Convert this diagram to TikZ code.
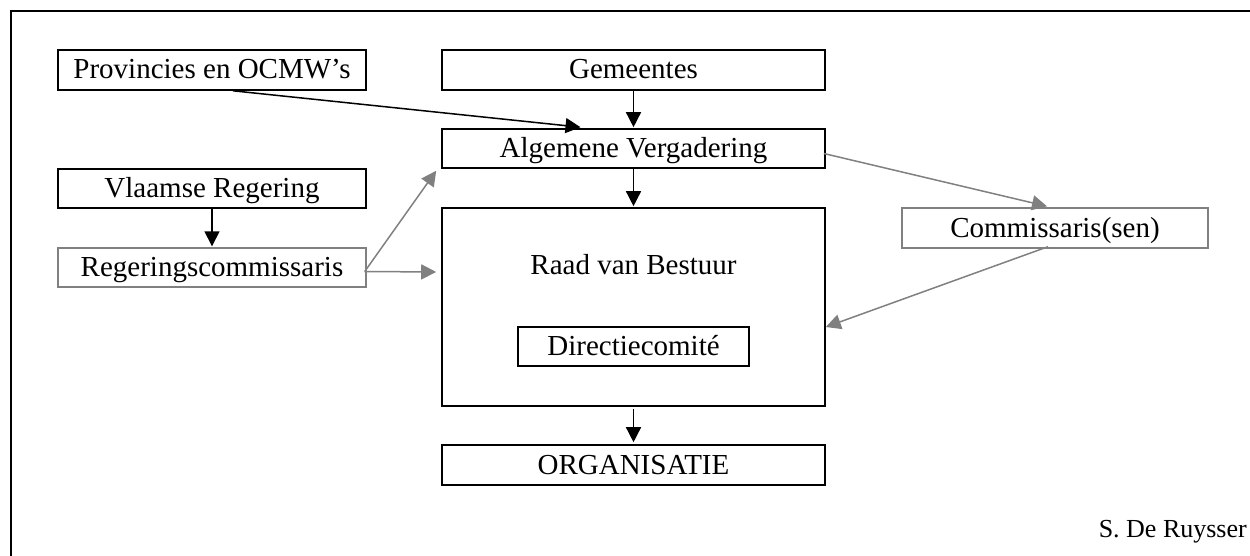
\documentclass[tikz,border=0pt]{standalone}
\usepackage{fontspec}
\setmainfont{Liberation Serif}
\usetikzlibrary{arrows.meta,calc}
\definecolor{linegrey}{HTML}{808080}
\tikzset{
  box/.style={draw=black, line width=1.6pt, rectangle, inner sep=0pt,
    text height=23pt, text depth=5pt,
    font=\fontsize{29}{32}\selectfont},
  greybox/.style={box, draw=linegrey, line width=1.4pt},
  label/.style={inner sep=0pt, text height=23pt, text depth=5pt,
    font=\fontsize{29}{32}\selectfont},
  arr/.style={draw=black, line width=1.5pt, -{Triangle[length=15pt,width=15pt]}},
  greyarr/.style={arr, draw=linegrey, -{Triangle[length=15pt,width=15pt,fill=linegrey]}}
}
\begin{document}
\begin{tikzpicture}[x=1pt, y=-1pt]
  \useasboundingbox (0,0) rectangle (1250,556);
  % frame
  \draw[line width=2pt] (11,556) -- (11,11) -- (1250,11);

  % left column
  \node[box, minimum width=308pt, minimum height=40pt] (prov) at (212,70) {Provincies en OCMW’s};
  \node[box, minimum width=308pt, minimum height=39pt] (vlaams) at (212,188.5) {Vlaamse Regering};
  \node[greybox, minimum width=308pt, minimum height=39pt] (reg) at (212,267.5) {Regeringscommissaris};

  % central column
  \node[box, minimum width=383pt, minimum height=40pt] (gem) at (633.5,70) {Gemeentes};
  \node[box, minimum width=383pt, minimum height=39pt] (alg) at (633.5,148.5) {Algemene Vergadering};
  \node[box, minimum width=383pt, minimum height=198pt] (raad) at (633.5,307) {};
  \node[label] (raadlbl) at (633.5,265) {Raad van Bestuur};
  \node[box, minimum width=231pt, minimum height=39pt] (dir) at (633.5,346.5) {Directiecomité};
  \node[box, minimum width=383pt, minimum height=40pt] (org) at (633.5,465) {ORGANISATIE};

  % right column
  \node[greybox, minimum width=306pt, minimum height=40pt] (comm) at (1055,228) {Commissaris(sen)};

  % signature
  \node[inner sep=0pt, anchor=base east, font=\fontsize{26}{30}\selectfont] (sig) at (1247,537) {S. De Ruysser};

  % connectors
  \draw[arr] ($(prov.south)+(21,0)$) -- ($(alg.north)+(-53,-1)$);
  \draw[arr] (gem.south) -- ($(alg.north)+(0,-1)$);
  \draw[arr] (alg.south) -- ($(raad.north)+(0,-1)$);
  \draw[arr] (vlaams.south) -- ($(reg.north)+(0,-1)$);
  \draw[arr] ($(raad.south)+(0,2)$) -- ($(org.north)+(0,-2)$);
  \draw[greyarr] ($(reg.east)+(-2,4)$) -- ($(alg.south west)+(-5,2)$);
  \draw[greyarr] ($(reg.east)+(-2,4)$) -- ($(raad.west)+(-5,-35)$);
  \draw[greyarr] ($(alg.east)+(-2,5)$) -- ($(comm.north)+(-8,-1)$);
  \draw[greyarr] ($(comm.south)+(-7,-2)$) -- ($(raad.east)+(0,20)$);
\end{tikzpicture}
\end{document}
